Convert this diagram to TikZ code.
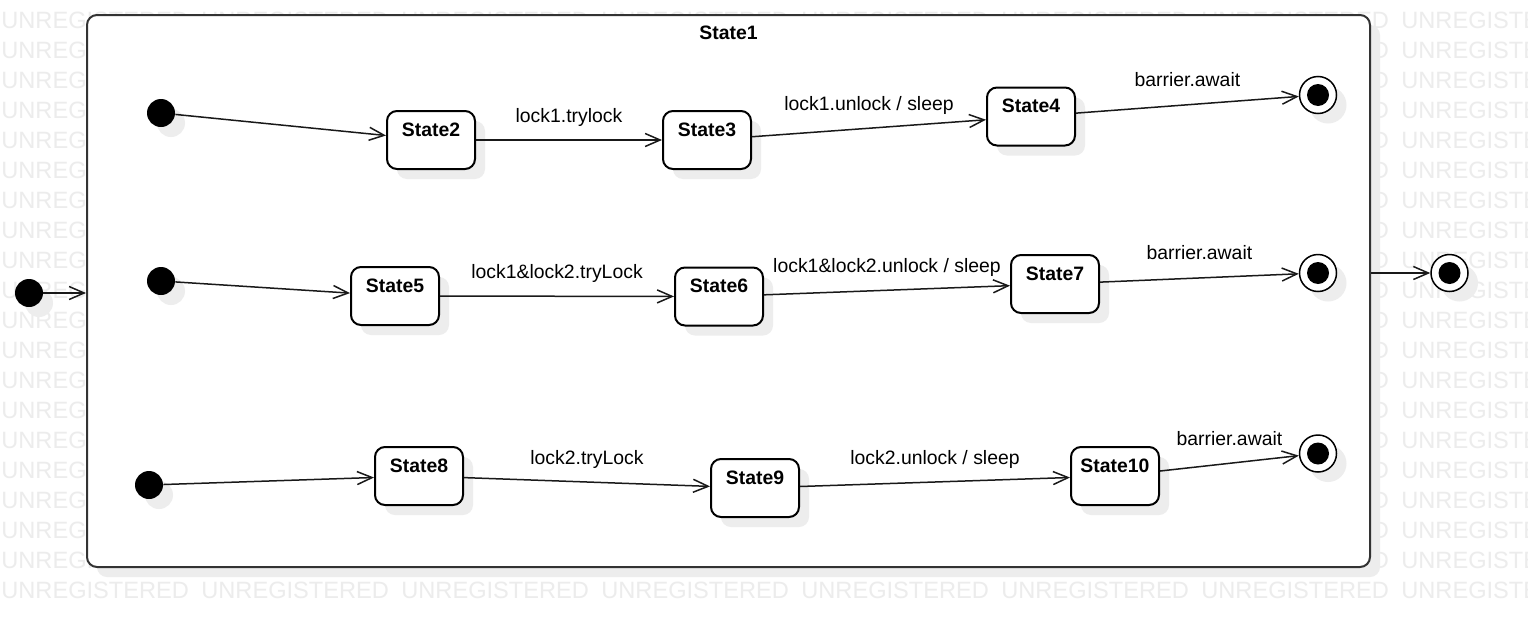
\documentclass[tikz,border=0pt]{standalone}
\usepackage{fontspec}
\setmainfont{Liberation Sans}
\usetikzlibrary{arrows.meta,shadows}
\definecolor{wm}{gray}{0.925}
\definecolor{shd}{gray}{0.93}
\definecolor{frm}{HTML}{333333}
\newcommand{\labsize}{\fontsize{9.7}{11}\selectfont}
\newcommand{\wmsize}{\fontsize{11.8}{13}\selectfont}
\newcommand{\shoff}{5pt}

\begin{document}
\begin{tikzpicture}[x=0.5pt,y=-0.5pt]
            \tikzset{sh/.style = {drop shadow={shadow xshift=\shoff, shadow yshift=-\shoff, fill=shd, opacity=1}}}
            \tikzset{wmark/.style = {anchor=base west, inner sep=0, text=wm, font=\wmsize}}
            \tikzset{frame/.style = {draw=frm, line width=1pt, rounded corners=5pt, fill=white, sh,
                minimum width=641.5pt, minimum height=276pt, inner sep=0}}
            \tikzset{init/.style = {circle, fill=black, minimum size=14pt, inner sep=0, sh}}
            \tikzset{fin/.style = {circle, draw, line width=0.75pt, fill=white, minimum size=18.5pt, inner sep=0, sh,
                path picture={\fill[black] (path picture bounding box.center) circle (5.5pt);}}}
            \tikzset{st/.style = {draw, line width=1pt, rounded corners=5pt, fill=white, sh, minimum width=44pt,
                inner sep=0, text height=12.5pt, text depth=16.5pt, font=\bfseries\labsize}}
            \tikzset{tr/.style = {-{Straight Barb[length=7.5pt,width=6.5pt]}, line width=0.75pt, draw=black!90}}
            \tikzset{lb/.style = {midway, anchor=base, yshift=9pt, inner sep=0, font=\labsize}}
            \useasboundingbox (0,0) rectangle (1528,627);
            \fill[white] (0,0) rectangle (1528,627);
            \foreach \r in {0,...,19}{
                \foreach \c in {0,...,7}{
                    \node[wmark] (w\r-\c) at (200*\c+1, 28+30*\r) {UNREGISTERED};
                }
            }
            \node[frame] (s1) at (728.5,291) {};
            \node[font=\bfseries\labsize, anchor=base, inner sep=0] (t1) at ([yshift=-12.5pt]s1.north) {State1};
            \node[init] (i0) at (29,293) {};
            \node[fin] (f0) at (1449.5,273) {};
            \draw[tr] (i0) -- (i0 -| s1.west);
            \draw[tr] (s1.east |- f0) -- (f0);

            \node[init] (i1) at (161,113) {};
            \node[st] (s2) at (431,140) {State2};
            \node[st] (s3) at (707,140) {State3};
            \node[st] (s4) at (1031,116.5) {State4};
            \node[fin] (f1) at (1318,95) {};
            \draw[tr] (i1) -- (s2);
            \draw[tr] (s2) -- node[lb] (l1) {lock1.trylock} (s3);
            \draw[tr] (s3) -- node[lb] (l2) {lock1.unlock / sleep} (s4);
            \draw[tr] (s4) -- node[lb] (l3) {barrier.await} (f1);

            \node[init] (i2) at (161,281) {};
            \node[st] (s5) at (395,296) {State5};
            \node[st] (s6) at (719,296.5) {State6};
            \node[st] (s7) at (1055,284) {State7};
            \node[fin] (f2) at (1318,273) {};
            \draw[tr] (i2) -- (s5);
            \draw[tr] (s5) -- node[lb] (l4) {lock1\&lock2.tryLock} (s6);
            \draw[tr] (s6) -- node[lb] (l5) {lock1\&lock2.unlock / sleep} (s7);
            \draw[tr] (s7) -- node[lb] (l6) {barrier.await} (f2);

            \node[init] (i3) at (149,485) {};
            \node[st] (s8) at (419,476) {State8};
            \node[st] (s9) at (755,488) {State9};
            \node[st] (s10) at (1115,476) {State10};
            \node[fin] (f3) at (1318,453.5) {};
            \draw[tr] (i3) -- (s8);
            \draw[tr] (s8) -- node[lb] (l7) {lock2.tryLock} (s9);
            \draw[tr] (s9) -- node[lb] (l8) {lock2.unlock / sleep} (s10);
            \draw[tr] (s10) -- node[lb] (l9) {barrier.await} (f3);
\end{tikzpicture}
\end{document}
